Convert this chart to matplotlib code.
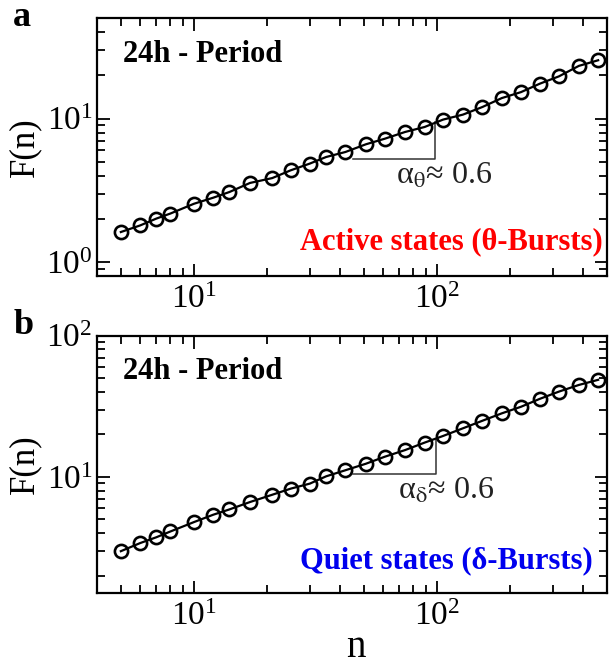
import matplotlib
matplotlib.use("Agg")
import matplotlib.pyplot as plt
from matplotlib.ticker import NullFormatter, LogLocator

plt.rcParams['font.family'] = ['Liberation Serif', 'DejaVu Serif']
plt.rcParams['mathtext.fontset'] = 'stix'

# ---- data ----
n_vals = [5, 6, 7, 8, 10, 12, 14, 17, 21, 25, 30, 35, 42, 51, 61, 74, 89,
          106, 128, 154, 185, 222, 265, 318, 384, 461]
F_theta = [1.62, 1.80, 2.01, 2.18, 2.55, 2.81, 3.08, 3.56, 3.85, 4.36, 4.86,
           5.40, 5.85, 6.62, 7.24, 8.07, 8.74, 9.84, 10.66, 12.05, 13.9,
           15.3, 17.5, 19.7, 23.3, 25.5]
F_delta = [2.98, 3.40, 3.74, 4.11, 4.79, 5.40, 5.89, 6.64, 7.48, 8.26, 8.97,
           10.1, 11.15, 12.4, 13.9, 15.5, 17.5, 19.5, 22.1, 25.0, 28.2, 31.4,
           35.7, 40.2, 44.8, 48.7]

slope_x_theta = [45, 98, 98]
slope_y_theta = [5.26, 5.26, 9.5]
slope_x_delta = [45, 99, 99]
slope_y_delta = [10.56, 10.56, 18.7]

panel_labels = ['a', 'b']
period_label = '24h - Period'
state_labels = ['Active states (θ-Bursts)', 'Quiet states (δ-Bursts)']
state_colors = ['#ff0000', '#0000ee']
alpha_labels = [r'α$_{\mathrm{θ}}$≈ 0.6', r'α$_{\mathrm{δ}}$≈ 0.6']

W, H = 611, 666
fig = plt.figure(figsize=(W / 100, H / 100), dpi=100)

def frac_rect(x0, y0, x1, y1):
    return [x0 / W, 1 - y1 / H, (x1 - x0) / W, (y1 - y0) / H]

ax1 = fig.add_axes(frac_rect(97.3, 18.3, 606.7, 276))
ax2 = fig.add_axes(frac_rect(97.3, 335.7, 606.7, 593.3))

configs = [
    (ax1, F_theta, (0.8, 50), slope_x_theta, slope_y_theta, (68, 3.52), 0.993, 0.104),
    (ax2, F_delta, (1.5, 100), slope_x_delta, slope_y_delta, (69, 7.0), 0.9725, 0.097),
]

for i, (ax, F, ylim, sx, sy, apos, sxpos, sypos) in enumerate(configs):
    ax.set_xscale('log')
    ax.set_yscale('log')
    ax.plot(n_vals, F, '-', color='black', lw=1.6, zorder=2)
    ax.plot(n_vals, F, 'o', mfc='none', mec='black', ms=9.5, mew=1.9, zorder=3)
    ax.plot(sx, sy, '-', color='#333333', lw=1.1, zorder=1)
    ax.set_xlim(4, 500)
    ax.set_ylim(*ylim)
    ax.xaxis.set_minor_locator(LogLocator(base=10, subs=range(2, 10)))
    ax.yaxis.set_minor_locator(LogLocator(base=10, subs=range(2, 10)))
    ax.xaxis.set_minor_formatter(NullFormatter())
    ax.yaxis.set_minor_formatter(NullFormatter())
    ax.tick_params(which='both', direction='in', top=True, right=True, width=1.3)
    ax.tick_params(which='major', length=9, labelsize=24)
    ax.tick_params(which='minor', length=6)
    ax.tick_params(axis='y', which='major', pad=3.5)
    ax.tick_params(axis='x', which='major', pad=6)
    for sp in ax.spines.values():
        sp.set_linewidth(1.6)
    ax.set_ylabel('F(n)', fontsize=25)
    ax.yaxis.set_label_coords(-0.142, 0.5)
    ax.yaxis.label.set_va('center')
    ax.text(0.05, 0.83, period_label, transform=ax.transAxes, fontsize=22,
            fontweight='bold', ha='left', va='baseline')
    ax.text(sxpos, sypos, state_labels[i], transform=ax.transAxes, fontsize=22,
            fontweight='bold', color=state_colors[i], ha='right', va='baseline')
    ax.text(apos[0], apos[1], alpha_labels[i], fontsize=23, color='#222222',
            ha='left', va='baseline')

ax2.set_xlabel('n', fontsize=28)
ax2.xaxis.set_label_coords(0.507, -0.247)
ax2.xaxis.label.set_va('baseline')

fig.text(22 / W, 1 - 18 / H, panel_labels[0], fontsize=26, fontweight='bold',
         ha='center', va='center')
fig.text(24 / W, 1 - 325 / H, panel_labels[1], fontsize=26, fontweight='bold',
         ha='center', va='center')

fig.savefig('out.png', dpi=100)
